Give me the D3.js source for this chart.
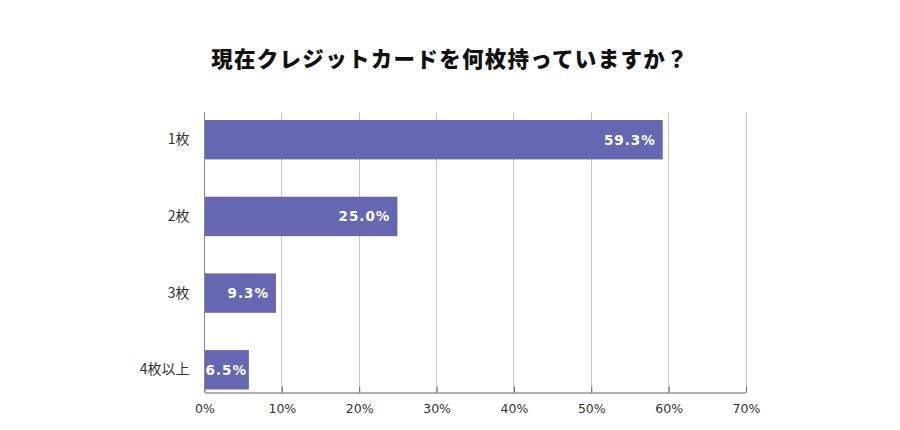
<!DOCTYPE html>
<html><head><meta charset="utf-8">
<script src="https://cdn.jsdelivr.net/npm/d3@7"></script>
<style>body{margin:0;background:#fff}svg{display:block}</style>
</head><body>
<script>
const title = "現在クレジットカードを何枚持っていますか？";
const categories = ["1枚","2枚","3枚","4枚以上"];
const barValues = [59.3, 25.0, 9.3, 5.8];
const valueLabels = ["59.3%","25.0%","9.3%","6.5%"];
const tickValues = [0,10,20,30,40,50,60,70];

const W = 900, H = 430;
const svg = d3.select("body").append("svg").attr("width", W).attr("height", H);

const x = d3.scaleLinear().domain([0,70]).range([204, 745.5]);
const y = d3.scaleBand().domain(categories).range([120, 389.5]).paddingInner(0.486).paddingOuter(0);
const plotTop = 112, axisY = 392.5;

svg.append("text").attr("x", 450).attr("y", 67).attr("text-anchor","middle")
  .attr("font-family","'Noto Sans CJK JP'").attr("font-weight",900).attr("font-size",21.5)
  .attr("letter-spacing", 1.3)
  .attr("fill","#111").text(title);

// gridlines
svg.append("g").selectAll("line").data(tickValues.slice(1)).join("line")
  .attr("x1", d=>Math.round(x(d))+0.5).attr("x2", d=>Math.round(x(d))+0.5)
  .attr("y1", plotTop).attr("y2", axisY).attr("stroke","#c8c8c8").attr("stroke-width",1);

// bars
svg.append("g").selectAll("rect").data(categories).join("rect")
  .attr("x", x(0)+1).attr("y", d=>y(d))
  .attr("width", (d,i)=>x(barValues[i])-x(0)-1).attr("height", y.bandwidth())
  .attr("fill","#6567b3");

// value labels
svg.append("g").selectAll("text").data(categories).join("text")
  .attr("x", (d,i)=>Math.max(x(barValues[i])-7, x(0)+43))
  .attr("y", d=>y(d)+y.bandwidth()/2+5)
  .attr("text-anchor","end").attr("fill","#fff")
  .attr("font-family","'DejaVu Sans'").attr("font-weight","bold").attr("font-size",13.5)
  .attr("letter-spacing", 1)
  .text((d,i)=>valueLabels[i]);

// x axis
const xAxis = d3.axisBottom(x).tickValues(tickValues).tickFormat(d=>d+"%").tickSizeInner(-6).tickSizeOuter(0).tickPadding(12);
const gx = svg.append("g").attr("transform",`translate(0.5,${axisY})`).call(xAxis);
gx.select(".domain").attr("stroke","#666");
gx.selectAll(".tick line").attr("stroke","#666");
gx.selectAll(".tick text").attr("font-family","'DejaVu Sans'").attr("font-size",12.5).attr("fill","#333");

// y axis
const yAxis = d3.axisLeft(y).tickSize(0).tickPadding(15);
const gy = svg.append("g").attr("transform",`translate(204.5,0)`).call(yAxis);
gy.select(".domain").attr("d", `M0,${plotTop}V${axisY}`).attr("stroke","#888");
gy.selectAll(".tick text").attr("font-family","'Noto Sans CJK JP'").attr("font-size",14).attr("fill","#333");
</script>
</body></html>
